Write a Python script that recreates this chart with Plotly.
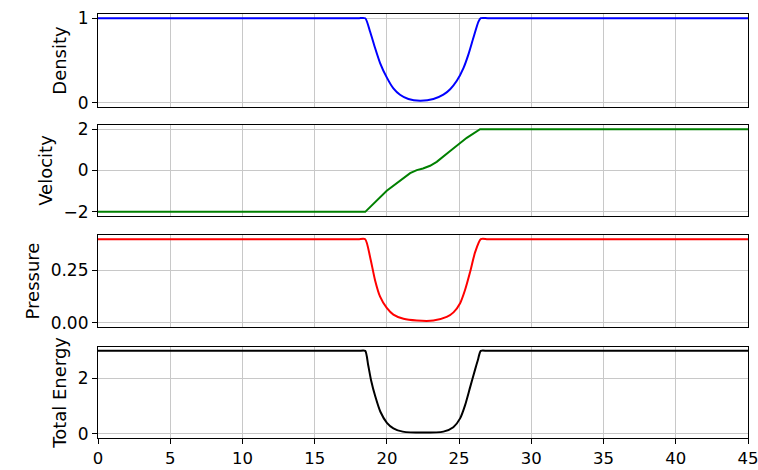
import plotly.graph_objects as go

# ---- data ----
x_density = [0, 18.0, 18.5, 18.84, 19.18, 19.53, 19.99, 20.45, 20.91, 21.49, 22.3, 23.22, 23.91, 24.38, 24.84, 25.3, 25.64, 25.99, 26.34, 26.5, 27.0, 45]
density = [1.0, 1.0, 1.0, 0.84, 0.65, 0.47, 0.30, 0.17, 0.095, 0.044, 0.025, 0.044, 0.095, 0.16, 0.26, 0.41, 0.57, 0.77, 0.96, 1.0, 1.0, 1.0]

x_velocity = [0, 18.5, 19.99, 20.91, 21.61, 22.07, 22.5, 22.99, 23.45, 24.38, 25.53, 26.45, 45]
velocity = [-2.0, -2.0, -0.98, -0.49, -0.13, 0.02, 0.1, 0.23, 0.42, 0.94, 1.58, 2.0, 2.0]

x_pressure = [0, 18.0, 18.5, 18.84, 19.18, 19.53, 19.99, 20.45, 21.15, 22.07, 23.22, 24.14, 24.61, 25.07, 25.41, 25.76, 26.11, 26.5, 27.0, 45]
pressure = [0.4, 0.4, 0.4, 0.314, 0.204, 0.125, 0.071, 0.039, 0.019, 0.011, 0.011, 0.028, 0.05, 0.094, 0.157, 0.243, 0.338, 0.4, 0.4, 0.4]

x_energy = [0, 18.0, 18.5, 18.7, 18.9, 19.2, 19.55, 20.0, 20.45, 21.1, 22.5, 23.91, 24.6, 25.07, 25.41, 25.76, 26.11, 26.3, 26.5, 27.0, 45]
energy = [3.0, 3.0, 3.0, 2.5, 1.95, 1.35, 0.8, 0.4, 0.2, 0.08, 0.046, 0.08, 0.24, 0.56, 1.03, 1.68, 2.33, 2.67, 3.0, 3.0, 3.0]

x_ticks = [0, 5, 10, 15, 20, 25, 30, 35, 40, 45]
panel_names = ["Density", "Velocity", "Pressure", "Total Energy"]
panel_colors = ["#0000ff", "#008000", "#ff0000", "#000000"]
y_ticks = [[0, 1], [-2, 0, 2], [0.0, 0.25], [0, 2]]
y_ranges = [[-0.05, 1.05], [-2.2, 2.2], [-0.02, 0.42], [-0.15, 3.15]]
y_formats = ["", "", ".2f", ""]

series = [(x_density, density), (x_velocity, velocity), (x_pressure, pressure), (x_energy, energy)]
domains = [[0.7807, 1.0], [0.5236, 0.7382], [0.2618, 0.4788], [0.0, 0.2153]]

TITLE_FONT = dict(family="DejaVu Sans", size=18, color="#000000")
TICK_FONT = dict(family="DejaVu Sans", size=17, color="#000000")
XTICK_FONT = dict(family="DejaVu Sans", size=16.5, color="#000000")

fig = go.Figure()
layout = dict(
    width=758, height=470,
    margin=dict(l=98, r=10, t=14, b=32),
    paper_bgcolor="white", plot_bgcolor="white",
    showlegend=False, font=TICK_FONT,
)

for i, ((xs, ys), name, col) in enumerate(zip(series, panel_names, panel_colors)):
    n = i + 1
    xa = "x" if n == 1 else f"x{n}"
    ya = "y" if n == 1 else f"y{n}"
    shape = "linear" if name == "Velocity" else "spline"
    fig.add_trace(go.Scatter(x=xs, y=ys, mode="lines", xaxis=xa, yaxis=ya,
                             line=dict(color=col, width=2, shape=shape, smoothing=0.6)))
    xkey = "xaxis" if n == 1 else f"xaxis{n}"
    ykey = "yaxis" if n == 1 else f"yaxis{n}"
    last = (n == 4)
    layout[xkey] = dict(
        domain=[0, 1], anchor=ya, range=[0, 45], automargin=False,
        tickvals=x_ticks, showticklabels=last, ticklabeloverflow="allow",
        ticks="outside" if last else "", ticklen=5, tickcolor="#000000", tickwidth=1,
        showgrid=True, gridcolor="#c8c8c8", gridwidth=1, zeroline=False,
        showline=True, mirror=True, linecolor="#000000", linewidth=1.2,
        tickfont=XTICK_FONT,
    )
    if n > 1:
        layout[xkey]["matches"] = "x"
    layout[ykey] = dict(
        domain=domains[i], anchor=xa, range=y_ranges[i], automargin=False,
        tickvals=y_ticks[i], tickformat=y_formats[i], ticklabeloverflow="allow",
        ticks="outside", ticklen=5, tickcolor="#000000", tickwidth=1,
        showgrid=True, gridcolor="#c8c8c8", gridwidth=1, zeroline=False,
        showline=True, mirror=True, linecolor="#000000", linewidth=1.2,
        tickfont=TICK_FONT,
        title=dict(text=name, font=TITLE_FONT, standoff=6),
    )

fig.update_layout(**layout)
fig.write_html(
    "out.html",
    config={"displayModeBar": False},
    post_script="document.body.style.margin='0';document.body.style.overflow='hidden';",
)
